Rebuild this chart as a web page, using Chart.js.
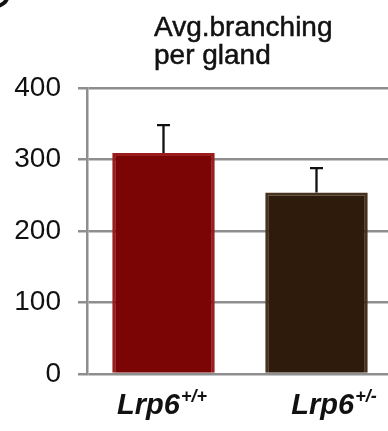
<!DOCTYPE html>
<html>
<head>
<meta charset="utf-8">
<script src="https://cdn.jsdelivr.net/npm/chart.js@4/dist/chart.umd.min.js"></script>
<style>
  html, body { margin: 0; padding: 0; background: #fff; overflow: hidden; }
  canvas { display: block; }
</style>
</head>
<body>
<canvas id="barChart" width="394" height="431"></canvas>
<script>
// data
var genotypes = ['Lrp6', 'Lrp6'];
var genotypeSup = ['+/+', '+/-'];
var branching = [309, 254];
var branchingErr = [39, 34];
var yTicks = [0, 100, 200, 300, 400];
var titleLines = ['Avg.branching', 'per gland'];

var barFill = ['#7b0505', '#2e1b0b'];
var barEdge = ['#9a1c1c', '#47321f'];
var gridGray = '#8e8e8e';

// title, two left aligned lines above the plot
var titlePlugin = {
    id: 'titleText',
    afterDraw: function (chart) {
        var ctx = chart.ctx;
        ctx.save();
        ctx.fillStyle = '#111';
        ctx.strokeStyle = '#111';
        ctx.lineWidth = 0.5;
        ctx.font = '28px "Liberation Sans", Arial, sans-serif';
        ctx.textBaseline = 'alphabetic';
        ctx.textAlign = 'left';
        titleLines.forEach(function (t, i) {
            ctx.fillText(t, 154, 36 + i * 28);
            ctx.strokeText(t, 154, 36 + i * 28);
        });
        // bit of the panel letter cut off in the corner
        ctx.lineWidth = 4;
        ctx.beginPath();
        ctx.arc(-4, -6, 12, 0.1, Math.PI * 0.6);
        ctx.stroke();
        ctx.restore();
    }
};

// one sided error bars
var errorPlugin = {
    id: 'errorBars',
    afterDatasetsDraw: function (chart) {
        var ctx = chart.ctx;
        var y = chart.scales.y;
        var meta = chart.getDatasetMeta(0);
        ctx.save();
        ctx.strokeStyle = '#111';
        ctx.lineWidth = 2.3;
        meta.data.forEach(function (bar, i) {
            var top = y.getPixelForValue(branching[i] + branchingErr[i]);
            ctx.beginPath();
            ctx.moveTo(bar.x, bar.y);
            ctx.lineTo(bar.x, top);
            ctx.moveTo(bar.x - 6.5, top);
            ctx.lineTo(bar.x + 6.5, top);
            ctx.stroke();
        });
        ctx.restore();
    }
};

// genotype labels with superscript
var labelPlugin = {
    id: 'genoLabels',
    afterDraw: function (chart) {
        var ctx = chart.ctx;
        var x = chart.scales.x;
        ctx.save();
        ctx.fillStyle = '#111';
        ctx.textBaseline = 'alphabetic';
        ctx.textAlign = 'left';
        genotypes.forEach(function (g, i) {
            var mainFont = 'italic bold 29px "Liberation Sans", Arial, sans-serif';
            var supFont = 'italic bold 18px "Liberation Sans", Arial, sans-serif';
            ctx.font = mainFont;
            var w1 = ctx.measureText(g).width;
            ctx.font = supFont;
            var w2 = ctx.measureText(genotypeSup[i]).width;
            var cx = x.getPixelForValue(i) + (i === 1 ? 17 : -2);
            var left = cx - (w1 + w2) / 2;
            ctx.font = mainFont;
            ctx.fillText(g, left, 414);
            ctx.font = supFont;
            ctx.fillText(genotypeSup[i], left + w1 + 1, 402);
        });
        ctx.restore();
    }
};

var chart = new Chart(document.getElementById('barChart'), {
    type: 'bar',
    data: {
        labels: genotypes.map(function (g, i) { return g + genotypeSup[i]; }),
        datasets: [{
            data: branching,
            backgroundColor: barFill,
            borderColor: barEdge,
            borderWidth: 3,
            categoryPercentage: 0.67,
            barPercentage: 1
        }]
    },
    options: {
        responsive: false,
        animation: false,
        layout: { padding: { top: 88, right: 1, left: 0, bottom: 0 } },
        plugins: {
            legend: { display: false },
            tooltip: { enabled: false }
        },
        scales: {
            x: {
                ticks: { display: false },
                grid: { display: false },
                border: { display: false },
                afterFit: function (scale) { scale.height = 57; }
            },
            y: {
                min: 0,
                max: 400,
                afterBuildTicks: function (scale) {
                    scale.ticks = yTicks.map(function (v) { return { value: v }; });
                },
                ticks: {
                    color: '#111',
                    padding: 17,
                    font: { family: '"Liberation Sans", Arial, sans-serif', size: 28 }
                },
                grid: { color: gridGray, lineWidth: 2.5, tickLength: 9 },
                border: { display: true, color: gridGray, width: 2.5 },
                afterFit: function (scale) { scale.width = 87; }
            }
        }
    },
    plugins: [titlePlugin, errorPlugin, labelPlugin]
});
</script>
</body>
</html>
